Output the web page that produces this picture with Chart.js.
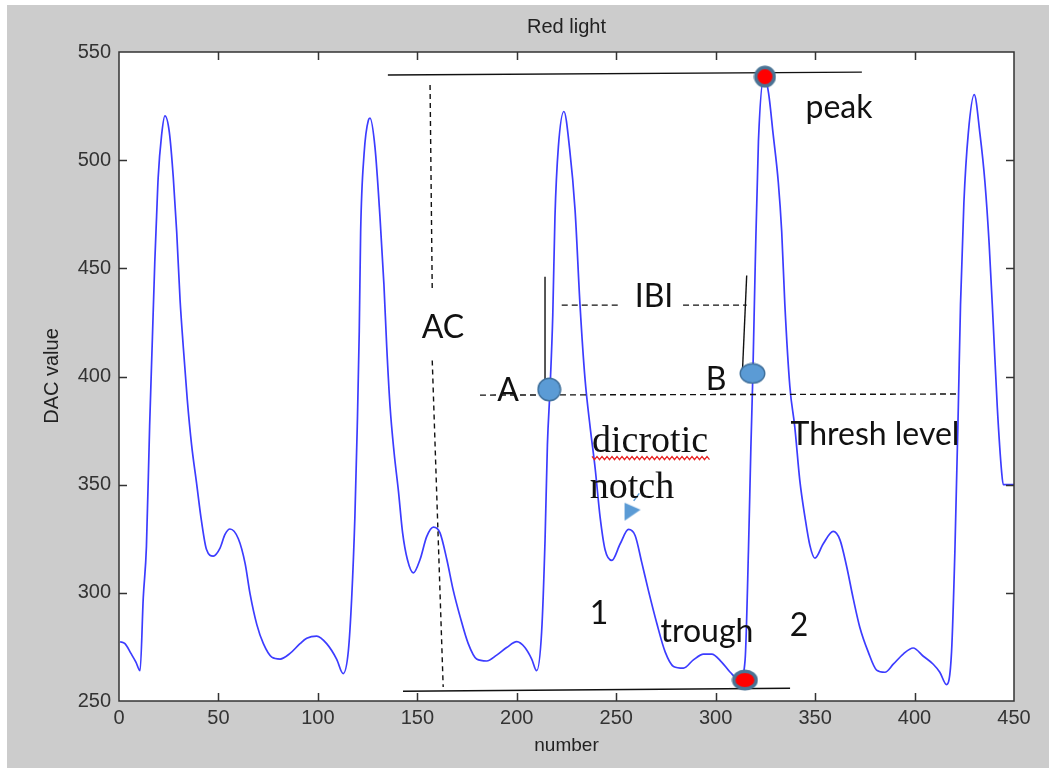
<!DOCTYPE html>
<html><head><meta charset="utf-8">
<script src="https://cdn.jsdelivr.net/npm/chart.js@4.4.1/dist/chart.umd.min.js"></script>
<style>html,body{margin:0;padding:0;background:#fff;overflow:hidden}
#wrap{position:absolute;left:0;top:0;width:1049px;height:769px}</style>
</head><body><div id="wrap"><canvas id="c" width="1049" height="769"></canvas></div>
<script>
// ---- data ----
const chartTitle = 'Red light';
const xAxisTitle = 'number';
const yAxisTitle = 'DAC value';
const xTickStep = 50, xMin = 0, xMax = 450;
const yTickStep = 50, yMin = 250, yMax = 550;

const sampleNumber = [0.5,3,6,8.5,10.6,12.2,13.8,15.4,16.8,18,18.9,19.7,21.4,23.1,25.3,27.3,29,30.7,32.3,34.3,36.5,39,41.5,44,47.4,50.8,53.3,55.8,60,63.4,65.9,69.3,72.6,76.8,81,86,91,94.4,99.4,104.4,109.4,112.7,115.3,117,118.6,119.8,120.8,121.5,123.2,125.4,
126.2,128.7,131.2,133.2,134.6,136.3,138.3,140.5,142.6,145,148,151.4,154.7,158.1,161.4,164.8,168.1,171.5,175.6,179.8,184.9,189.9,194.9,200,204.1,207.5,210,212.5,214.2,215.4,216.7,218.1,219.2,220.9,223.7,
226.6,229.3,231.8,234.3,236.9,239.4,241.9,244.4,247.8,252,256.2,259.5,262.8,266.2,270.4,274.6,278.8,283.8,288.8,293.9,298,303,307.2,312.3,314.8,316.5,317.7,318.7,319.9,321.5,324.4,
326.6,328.9,331.5,333.2,334.8,337.3,339.8,342.3,344.9,347.4,349.9,354.1,359.1,362.5,365.8,369.2,372.5,376.7,380.9,385.1,389.3,394.3,399.3,404.4,409.4,412.7,416.1,418.6,420.3,422,423.1,424.8,427,430,432.9,435.4,437.5,439.6,441.6,443.8,444.6,450];
const dacValue = [277.4,276.5,272,268,264,297.7,321.6,377,418,453,474,492,511.5,520.5,513,492,467,435.5,414,389.6,368.4,350.7,333,320,317,320.7,327,329.5,325,313.6,299.5,285.3,276.5,270.3,269.4,272,276.5,279,280,276.5,269.4,262.7,273,297.7,335,377,421,467,502.6,518.5,
519.4,506,474,442.6,414,386,365,347,327.7,315.4,309.2,315.5,326,330.4,327.7,315.5,301,289,276.5,269.4,268.5,271.2,274.7,277.4,274.7,269.4,264,282,324,368.4,394,428.4,474,506,522.5,
505,477,433,399,376.5,357.6,335,319.9,315,322.7,329.3,326.5,314.2,301,285.9,272.7,266,265.2,269,271.7,271.7,268,263.4,259.5,269,320,367,401,452,508.6,538.5,
531,512,489.7,467,433,395.4,376.5,352,335,321.8,316,322.7,328.4,324.5,312.4,297.2,284,272.7,264.3,263.3,267,271.7,274.5,270.7,267,263.3,257.6,272.7,320,385.8,433,480.2,512.3,530.3,512,489.7,461.4,423.6,385.8,355.7,350,350];

// annotation geometry in data units
const peakLineX = [135.2, 373.5];      const peakLineY = [539.4, 540.7];
const troughLineX = [142.8, 337.4];    const troughLineY = [254.5, 255.9];
const acLineX = [156.4, 157.5, 157.5, 157.5, 163.0]; const acLineY = [534.7, 439.2, null, 407.4, 256.5];
const threshLineX = [181.5, 421.8];    const threshLineY = [391.4, 391.9];
const ibiLineX = [222.6, 251.9, 260, 283.6, 315.6]; const ibiLineY = [433, 433, null, 433, 433];
const aTickX = [214.2, 214.2];         const aTickY = [446.1, 394];
const bTickX = [315.6, 313.5];         const bTickY = [446.7, 403];
const arrowTailX = [258.8, 261.6];     const arrowTailY = [342.5, 346.0];
const peakDotX = [324.8], peakDotY = [538.6];
const troughDotX = [314.7], troughDotY = [259.7];
const aDotX = [216.3], aDotY = [394];
const bDotX = [318.5], bDotY = [401.4];
const notchArrowX = [258.2], notchArrowY = [337.5];

const labelTexts = ['peak','AC','IBI','A','B','dicrotic','notch','Thresh level','1','trough','2'];
const labelX =     [362.0, 162.9, 269.0, 195.6, 300.2, 267.0, 257.9, 380.1, 241.3, 295.6, 341.9];
const labelY =     [524.1, 422.4, 436.7, 393.3, 398.4, 369.7, 348.4, 372.9, 290.2, 281.9, 284.6];
const labelSerif = [false,false,false,false,false,true,true,false,false,false,false];

// ---- helpers ----
const pts = (xs, ys) => xs.map((x, i) => ({x: x, y: ys[i]}));
function ellipseCanvas(w, h, fill, stroke, lw) {
  const c = document.createElement('canvas'); c.width = w; c.height = h;
  const g = c.getContext('2d');
  g.beginPath(); g.ellipse(w/2, h/2, w/2 - lw/2 - 0.5, h/2 - lw/2 - 0.5, 0, 0, Math.PI*2);
  g.fillStyle = fill; g.fill(); g.lineWidth = lw; g.strokeStyle = stroke; g.stroke();
  return c;
}
function triangleCanvas() {
  const c = document.createElement('canvas'); c.width = 18; c.height = 20;
  const g = c.getContext('2d');
  g.beginPath(); g.moveTo(1, 1); g.lineTo(1, 19); g.lineTo(17, 8); g.closePath();
  g.fillStyle = '#5b9bd5'; g.fill();
  return c;
}

const lineDs = (data, dash, w) => ({type:'line', data, borderColor:'#111', borderWidth:w||1.4,
  borderDash: dash || [], pointRadius:0, spanGaps:false, tension:0, order:5, clip:false});
const dotDs = (data, style) => ({type:'line', data, showLine:false, pointStyle:style, pointRadius:6, order:1, clip:false});

const frame = {
  id: 'frame',
  beforeDraw(chart) {
    const ctx = chart.ctx, a = chart.chartArea;
    ctx.save();
    ctx.fillStyle = '#ffffff'; ctx.fillRect(0, 0, chart.width, chart.height);
    ctx.fillStyle = '#cccccc'; ctx.fillRect(7, 5, chart.width - 7, chart.height - 6);
    ctx.fillStyle = '#ffffff'; ctx.fillRect(a.left, a.top, a.right - a.left, a.bottom - a.top);
    ctx.restore();
  },
  afterDatasetsDraw(chart) {
    const ctx = chart.ctx, xs = chart.scales.x, ys = chart.scales.y;
    ctx.save();
    ctx.textAlign = 'center'; ctx.textBaseline = 'middle'; ctx.fillStyle = '#111';
    labelTexts.forEach((t, i) => {
      ctx.font = labelSerif[i] ? '38px "Liberation Serif"' : '32px Lato';
      const px = xs.getPixelForValue(labelX[i]), py = ys.getPixelForValue(labelY[i]);
      ctx.fillText(t, px, py);
      if (t === 'dicrotic') {
        const w = ctx.measureText(t).width;
        ctx.strokeStyle = '#e82020'; ctx.lineWidth = 1.3; ctx.beginPath();
        const y0 = py + 16; let k = 0;
        for (let x = px - w/2; x <= px + w/2 + 2; x += 2.5, k++) {
          const yy = y0 + (k % 2 ? 1.6 : -1.6);
          if (k === 0) ctx.moveTo(x, yy); else ctx.lineTo(x, yy);
        }
        ctx.stroke();
      }
    });
    ctx.restore();
  },
  afterDraw(chart) {
    const ctx = chart.ctx, a = chart.chartArea, xs = chart.scales.x, ys = chart.scales.y;
    ctx.save();
    ctx.strokeStyle = '#333'; ctx.lineWidth = 1.5;
    ctx.strokeRect(a.left, a.top, a.right - a.left, a.bottom - a.top);
    const tl = 8;
    ctx.beginPath();
    for (let v = xMin + xTickStep; v < xMax; v += xTickStep) {
      const p = Math.round(xs.getPixelForValue(v)) + 0.5;
      ctx.moveTo(p, a.bottom); ctx.lineTo(p, a.bottom - tl);
      ctx.moveTo(p, a.top); ctx.lineTo(p, a.top + tl);
    }
    for (let v = yMin + yTickStep; v < yMax; v += yTickStep) {
      const p = Math.round(ys.getPixelForValue(v)) + 0.5;
      ctx.moveTo(a.left, p); ctx.lineTo(a.left + tl, p);
      ctx.moveTo(a.right, p); ctx.lineTo(a.right - tl, p);
    }
    ctx.stroke();
    ctx.fillStyle = '#222'; ctx.textAlign = 'center'; ctx.textBaseline = 'middle';
    ctx.font = '20px "Liberation Sans"';
    ctx.fillText(chartTitle, (a.left + a.right) / 2, 27);
    ctx.font = '19px "Liberation Sans"';
    ctx.fillText(xAxisTitle, (a.left + a.right) / 2, 746);
    ctx.font = '20px "Liberation Sans"';
    ctx.translate(52, 376);
    ctx.rotate(-Math.PI / 2);
    ctx.fillText(yAxisTitle, 0, 0);
    ctx.restore();
  }
};

const tickFont = {family: '"Liberation Sans"', size: 20};
new Chart(document.getElementById('c'), {
  type: 'line',
  data: {
    datasets: [
      {type:'line', data: pts(sampleNumber, dacValue), borderColor:'#3c3cff', borderWidth:1.7,
       pointRadius:0, cubicInterpolationMode:'monotone', order:10},
      lineDs(pts(peakLineX, peakLineY)),
      lineDs(pts(troughLineX, troughLineY)),
      lineDs(pts(acLineX, acLineY), [5, 4]),
      lineDs(pts(threshLineX, threshLineY), [6, 4]),
      lineDs(pts(ibiLineX, ibiLineY), [6, 4]),
      lineDs(pts(aTickX, aTickY)),
      lineDs(pts(bTickX, bTickY)),
      Object.assign(lineDs(pts(arrowTailX, arrowTailY)), {borderColor:'#5b9bd5', borderWidth:1.5}),
      dotDs(pts(peakDotX, peakDotY), ellipseCanvas(23, 23, '#ff0000', '#4a7394', 3.5)),
      dotDs(pts(troughDotX, troughDotY), ellipseCanvas(27, 22, '#ff0000', '#4a7394', 3.5)),
      dotDs(pts(aDotX, aDotY), ellipseCanvas(25, 25, '#5b9bd5', '#41719c', 1.5)),
      dotDs(pts(bDotX, bDotY), ellipseCanvas(27, 22, '#5b9bd5', '#41719c', 1.5)),
      dotDs(pts(notchArrowX, notchArrowY), triangleCanvas())
    ]
  },
  options: {
    responsive: false, animation: false, devicePixelRatio: 1,
    layout: {padding: {left: 0, top: 52, right: 35, bottom: 0}},
    plugins: {legend: {display: false}, tooltip: {enabled: false}, title: {display: false}},
    scales: {
      x: {type: 'linear', min: xMin, max: xMax,
          ticks: {stepSize: xTickStep, padding: 5, font: tickFont, color: '#333', maxRotation: 0},
          grid: {display: false, drawTicks: false}, border: {display: false},
          afterFit(s) { s.height = 68; }},
      y: {type: 'linear', min: yMin, max: yMax,
          ticks: {stepSize: yTickStep, padding: 8, font: tickFont, color: '#333'},
          grid: {display: false, drawTicks: false}, border: {display: false},
          afterFit(s) { s.width = 119; }}
    }
  },
  plugins: [frame]
});
</script></body></html>
